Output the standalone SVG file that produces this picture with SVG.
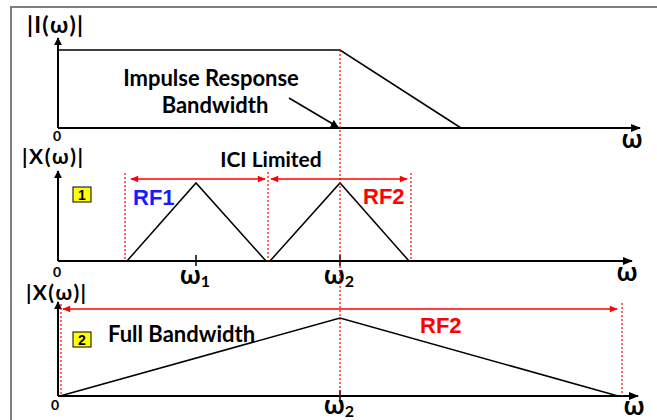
<svg xmlns="http://www.w3.org/2000/svg" width="657" height="420" viewBox="0 0 657 420">
<defs>
<marker id="ah" viewBox="0 0 10 10" refX="9" refY="5" markerWidth="8" markerHeight="8" markerUnits="userSpaceOnUse" orient="auto-start-reverse"><path d="M0,0 L10,5 L0,10 z" fill="#000"/></marker>
<marker id="ahBig" viewBox="0 0 10 10" refX="9" refY="5" markerWidth="10" markerHeight="10" markerUnits="userSpaceOnUse" orient="auto-start-reverse"><path d="M0,1 L10,5 L0,9 z" fill="#000"/></marker>
<marker id="rh" viewBox="0 0 10 10" refX="9" refY="5" markerWidth="10" markerHeight="8" markerUnits="userSpaceOnUse" orient="auto-start-reverse"><path d="M0,1 L10,5 L0,9 z" fill="#f00"/></marker>
</defs>
<style>
.ax{stroke:#000;stroke-width:2;fill:none}
.ln{stroke:#000;stroke-width:1.5;fill:none}
.rd{stroke:#f00;stroke-width:1.2;stroke-dasharray:2,2;fill:none}
.ra{stroke:#f00;stroke-width:1.5;fill:none}
.t{font-family:Lato,"Liberation Sans",sans-serif;font-weight:bold;fill:#000}
.a{font-family:"Liberation Sans",Arial,sans-serif;font-weight:bold}
.box{fill:#ff0;stroke:#000;stroke-width:1}
</style>
<rect width="657" height="420" fill="#fff"/>
<path d="M11,420 V7 H657" stroke="#7f7f7f" stroke-width="2" fill="none"/>

<g id="panel1">
<line class="ax" x1="58" y1="128" x2="58" y2="38" marker-end="url(#ah)"/>
<line class="ax" x1="58" y1="128" x2="640" y2="128" marker-end="url(#ahBig)"/>
<polyline class="ln" points="58,50 340,50 461,128"/>
<text class="t" x="27" y="33" font-size="23" textLength="56" lengthAdjust="spacing">|I(ω)|</text>
<text class="t" x="57" y="141" font-size="14" text-anchor="middle">0</text>
<text class="t" x="632" y="148" font-size="26" text-anchor="middle">ω</text>
<text class="t" x="211" y="86" font-size="22" text-anchor="middle">Impulse Response</text>
<text class="t" x="215" y="113" font-size="22" text-anchor="middle">Bandwidth</text>
<line class="ln" x1="289" y1="98" x2="338" y2="127" marker-end="url(#ah)"/>
</g>

<g id="panel2">
<line class="ax" x1="58" y1="261" x2="58" y2="171" marker-end="url(#ah)"/>
<line class="ax" x1="58" y1="261" x2="632" y2="261" marker-end="url(#ahBig)"/>
<polyline class="ln" points="127,261 196,183 266,261"/>
<polyline class="ln" points="270,261 340,183 409,261"/>
<line class="ln" x1="196" y1="255" x2="196" y2="266"/>
<line class="ln" x1="340" y1="255" x2="340" y2="266"/>
<text class="t" x="22" y="164" font-size="21" textLength="61" lengthAdjust="spacing">|X(ω)|</text>
<text class="t" x="57" y="277" font-size="14" text-anchor="middle">0</text>
<text class="t" x="627" y="281" font-size="26" text-anchor="middle">ω</text>
<text class="t" x="195" y="284" font-size="26" text-anchor="middle">ω<tspan font-size="16" dy="3">1</tspan></text>
<text class="t" x="339" y="284" font-size="26" text-anchor="middle">ω<tspan font-size="16" dy="3">2</tspan></text>
<text class="t" x="271" y="167" font-size="21" text-anchor="middle">ICI Limited</text>
<rect class="box" x="73" y="187" width="18" height="15"/>
<text class="a" x="82" y="200" font-size="14" text-anchor="middle">1</text>
<text class="a" x="133" y="205" font-size="22" fill="#1a1aff">RF1</text>
<text class="a" x="363" y="204" font-size="22" fill="#f00">RF2</text>
</g>

<g id="panel3">
<line class="ax" x1="58" y1="396" x2="58" y2="302" marker-end="url(#ah)"/>
<line class="ax" x1="58" y1="396" x2="638" y2="396" marker-end="url(#ahBig)"/>
<polyline class="ln" points="60,396 340,318 618,396"/>
<line class="ln" x1="340" y1="390" x2="340" y2="401"/>
<text class="t" x="26" y="300" font-size="21" textLength="60" lengthAdjust="spacing">|X(ω)|</text>
<text class="t" x="55" y="410" font-size="14" text-anchor="middle">0</text>
<text class="t" x="634" y="415" font-size="26" text-anchor="middle">ω</text>
<text class="t" x="339" y="414" font-size="26" text-anchor="middle">ω<tspan font-size="16" dy="3">2</tspan></text>
<rect class="box" x="73" y="332" width="18" height="15"/>
<text class="a" x="82" y="345" font-size="14" text-anchor="middle">2</text>
<text class="t" x="108" y="342" font-size="22">Full Bandwidth</text>
<text class="a" x="420" y="333" font-size="22" fill="#f00">RF2</text>
</g>

<g id="connectors">
<line class="rd" x1="340" y1="50" x2="340" y2="396"/>
<line class="rd" x1="125" y1="173" x2="125" y2="261"/>
<line class="rd" x1="268" y1="172" x2="268" y2="261"/>
<line class="rd" x1="411" y1="173" x2="411" y2="261"/>
<line class="rd" x1="61" y1="304" x2="61" y2="396"/>
<line class="rd" x1="622" y1="303" x2="622" y2="396"/>
<line class="ra" x1="131" y1="179" x2="265" y2="179" marker-start="url(#rh)" marker-end="url(#rh)"/>
<line class="ra" x1="271" y1="179" x2="407" y2="179" marker-start="url(#rh)" marker-end="url(#rh)"/>
<line class="ra" x1="63" y1="309" x2="617" y2="309" marker-start="url(#rh)" marker-end="url(#rh)"/>
</g>
</svg>
